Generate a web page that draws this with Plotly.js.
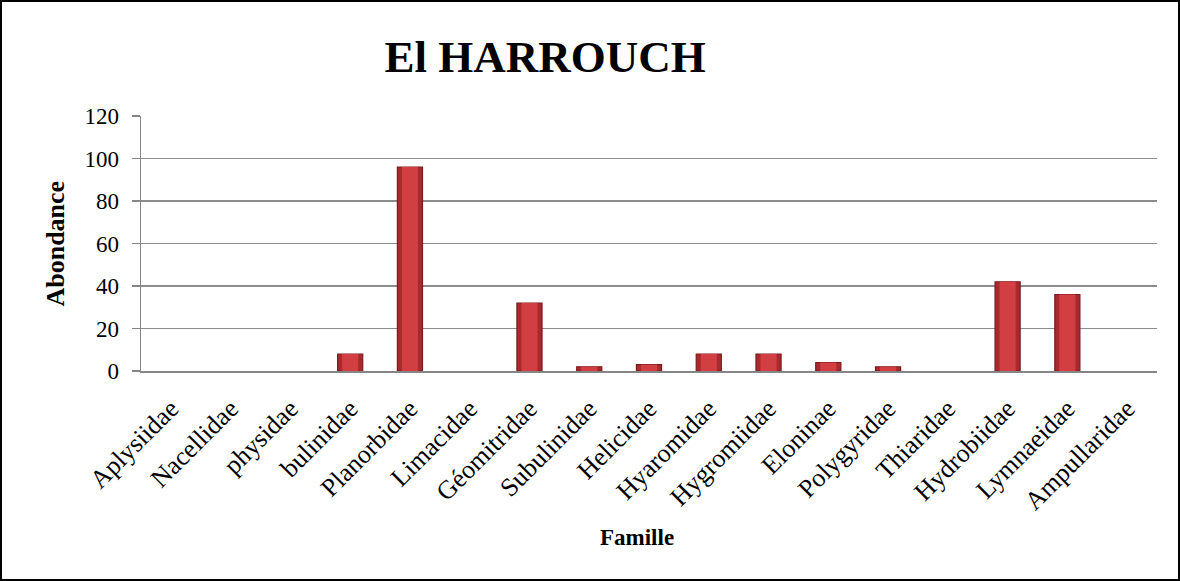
<!DOCTYPE html>
<html>
<head>
<meta charset="utf-8">
<script src="https://cdn.plot.ly/plotly-3.0.1.min.js"></script>
<style>
html,body{margin:0;padding:0;background:#fff;}
#wrap{position:relative;width:1180px;height:581px;}
#chart{width:1180px;height:581px;}
#frame{position:absolute;left:0;top:0;width:1180px;height:581px;box-sizing:border-box;border:2px solid #000;pointer-events:none;}
</style>
</head>
<body>
<div id="wrap"><div id="chart"></div><div id="frame"></div></div>
<script>
const families = ["Aplysiidae","Nacellidae","physidae","bulinidae","Planorbidae","Limacidae","Géomitridae","Subulinidae","Helicidae","Hyaromidae","Hygromiidae","Eloninae","Polygyridae","Thiaridae","Hydrobiidae","Lymnaeidae","Ampullaridae"];
const abondance = [0,0,0,8,96,0,32,2,3,8,8,4,2,0,42,36,0];
const yTicks = [0,20,40,60,80,100,120];

const serif = "Liberation Serif, Times New Roman, serif";
const outer = {
  type: "bar",
  x: families,
  y: abondance,
  width: 0.42,
  marker: {color: "#a82a2e", line: {color: "#7c1b1e", width: abondance.map(v => v > 0 ? 1.2 : 0)}},
  hoverinfo: "x+y"
};
const inner = {
  type: "bar",
  x: families,
  y: abondance,
  width: 0.27,
  marker: {color: "#d13f43", line: {width: 0}},
  hoverinfo: "skip"
};
const layout = {
  width: 1180, height: 581,
  margin: {l: 141, r: 23, t: 116, b: 210},
  paper_bgcolor: "#fff", plot_bgcolor: "#fff",
  barmode: "overlay",
  showlegend: false,
  title: {text: "<b>El HARROUCH</b>", font: {family: serif, size: 45, color: "#000"}, x: 0.462, xanchor: "center", y: 0.903, yanchor: "middle"},
  xaxis: {
    type: "category",
    tickangle: -45,
    tickfont: {family: serif, size: 26, color: "#000"},
    showline: true, linecolor: "#868686", linewidth: 2,
    ticks: "outside", ticklen: 10, tickcolor: "rgba(0,0,0,0)",
    showgrid: false
  },
  yaxis: {
    range: [0, 120],
    tickvals: yTicks,
    tickfont: {family: serif, size: 23, color: "#000"},
    showline: true, linecolor: "#868686", linewidth: 1.5,
    ticks: "outside", ticklen: 8, tickcolor: "#868686", tickwidth: 1.5,
    ticklabelstandoff: 8,
    showgrid: true, gridcolor: "#8c8c8c", gridwidth: 1.5,
    zeroline: false
  },
  annotations: [
    {text: "<b>Famille</b>", xref: "paper", yref: "paper", x: 0.488, y: -0.651, xanchor: "center", yanchor: "middle", showarrow: false, font: {family: serif, size: 23, color: "#000"}},
    {text: "<b>Abondance</b>", xref: "paper", yref: "paper", x: -0.0846, y: 0.5, xanchor: "center", yanchor: "middle", textangle: -90, showarrow: false, font: {family: serif, size: 26, color: "#000"}}
  ]
};
Plotly.newPlot("chart", [outer, inner], layout, {displayModeBar: false, staticPlot: true});
</script>
</body>
</html>
